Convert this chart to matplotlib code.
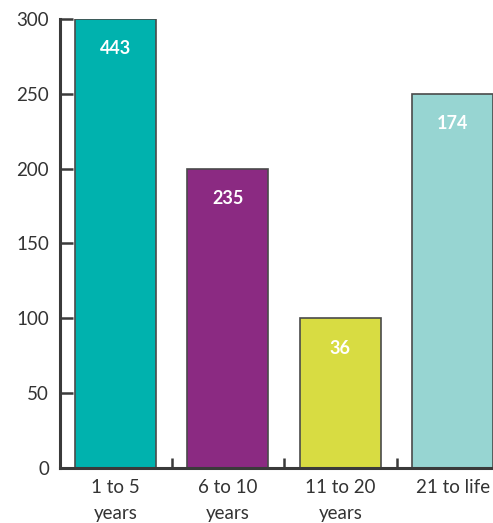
import matplotlib
matplotlib.use("Agg")
import matplotlib.pyplot as plt

# bar heights as drawn on the axis, and the numbers printed inside the bars
categories = ["1 to 5\nyears", "6 to 10\nyears", "11 to 20\nyears", "21 to life"]
heights = [300, 200, 100, 250]
bar_labels = ["443", "235", "36", "174"]
colors = ["#00B2AE", "#8B2A82", "#D8DC42", "#97D5D2"]

plt.rcParams["font.family"] = ["Lato", "DejaVu Sans"]

fig = plt.figure(figsize=(4.93, 5.23), dpi=100)
ax = fig.add_axes([60 / 493, 55 / 523, 433 / 493, 449 / 523])

x = list(range(len(categories)))
bars = ax.bar(x, heights, width=0.72, color=colors,
              edgecolor="#4a4a4a", linewidth=1.2, zorder=2)

# white count labels near the top of each bar
for rect, lab in zip(bars, bar_labels):
    ax.annotate(lab, (rect.get_x() + rect.get_width() / 2, rect.get_height()),
                xytext=(0, -21.5), textcoords="offset points",
                ha="center", va="center", color="white",
                fontsize=13, fontweight="bold")

ax.set_xlim(-0.493, 3.356)
ax.set_ylim(0, 300)
ax.set_yticks([0, 50, 100, 150, 200, 250, 300])

# separators between bars as major ticks, category names as minor ticks
ax.set_xticks([0.5, 1.5, 2.5])
ax.set_xticklabels([])
ax.set_xticks(x, minor=True)
ax.set_xticklabels(categories, minor=True, fontsize=13.5, color="#333333",
                   linespacing=1.6)
ax.tick_params(axis="x", which="major", direction="in", length=7,
               width=1.8, color="#3a3a3a")
ax.tick_params(axis="x", which="minor", length=0, pad=8)
ax.tick_params(axis="y", direction="in", length=9, width=1.8,
               color="#3a3a3a", labelsize=13.5, labelcolor="#333333", pad=8)

for side in ["top", "right"]:
    ax.spines[side].set_visible(False)
for side in ["left", "bottom"]:
    ax.spines[side].set_color("#3a3a3a")
    ax.spines[side].set_linewidth(2.2)

fig.savefig("out.png", dpi=100)
